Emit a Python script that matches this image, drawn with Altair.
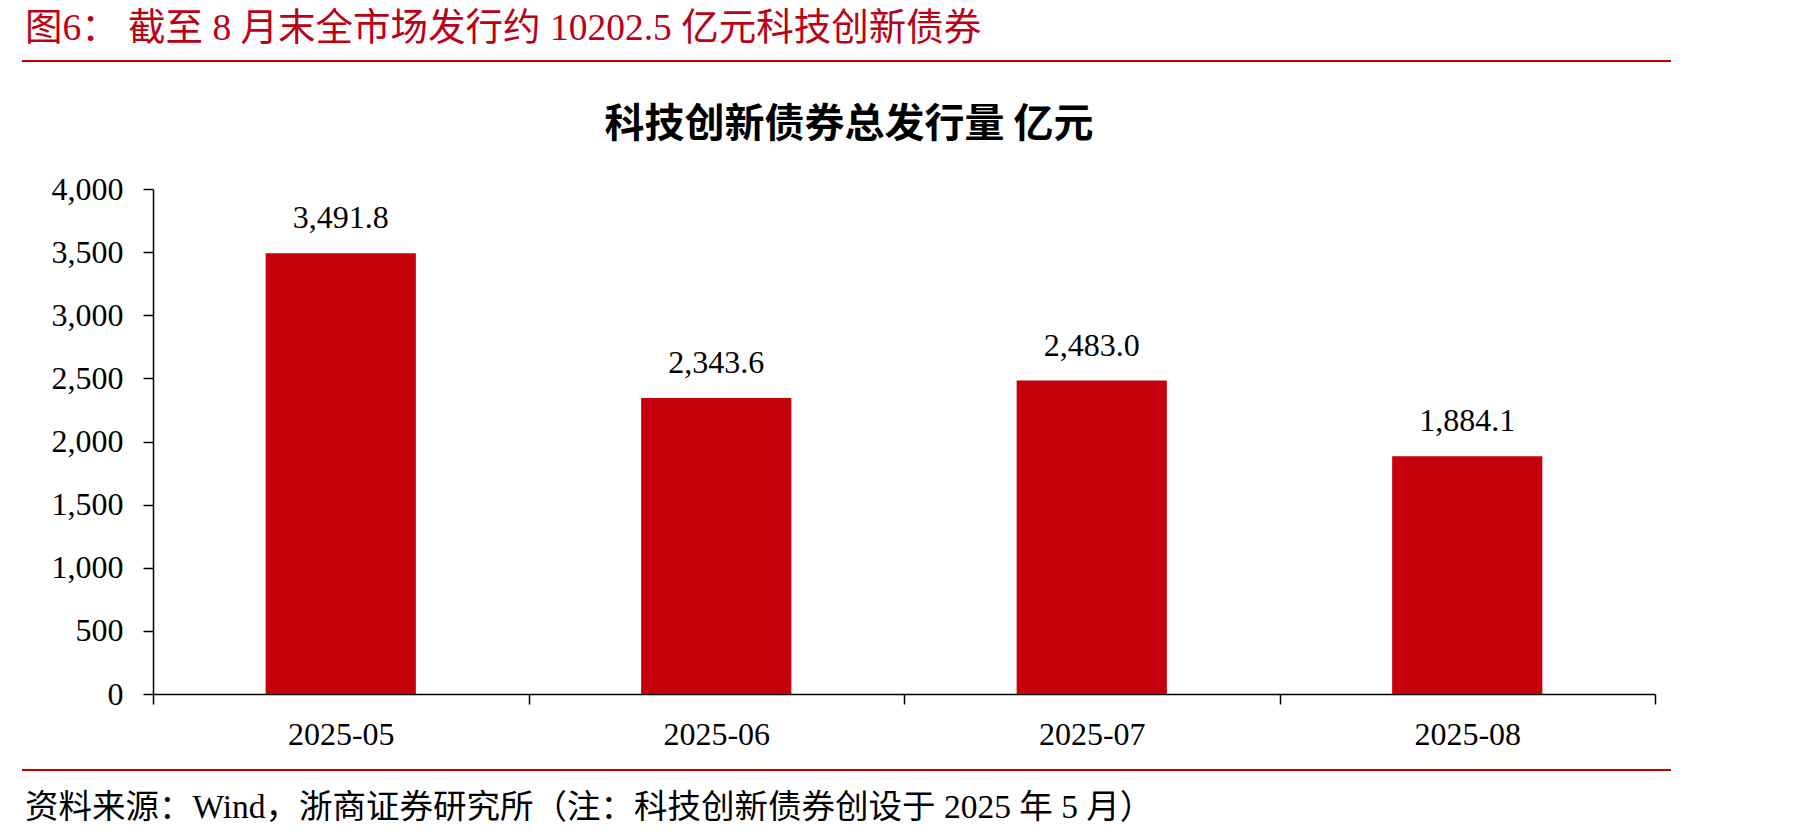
import altair as alt
import pandas as pd

months = ["2025-05", "2025-06", "2025-07", "2025-08"]
issuance = [3491.8, 2343.6, 2483.0, 1884.1]
y_ticks = [0, 500, 1000, 1500, 2000, 2500, 3000, 3500, 4000]

header_text = ["图6：  截至 8 月末全市场发行约 10202.5 亿元科技创新债券"]
chart_title = ["科技创新债券总发行量 亿元"]
footer_text = ["资料来源：Wind，浙商证券研究所（注：科技创新债券创设于 2025 年 5 月）"]

df = pd.DataFrame({"month": months, "value": issuance})

W, H = 1502, 505
L, T = 153, 189
RED = "#C00000"
BAR = "#C6000B"
SERIF = "Liberation Serif, Noto Sans CJK SC"

x = alt.X(
    "month:N",
    sort=months,
    title=None,
    scale=alt.Scale(paddingInner=0, paddingOuter=0),
    axis=alt.Axis(
        labelAngle=0,
        tickBand="extent",
        tickSize=10,
        tickColor="#000",
        tickWidth=1.5,
        domainColor="#000",
        domainWidth=1.5,
        labelFont=SERIF,
        labelFontSize=32,
        labelColor="#000",
        labelPadding=40,
        labelBaseline="alphabetic",
        grid=False,
    ),
)
y = alt.Y(
    "value:Q",
    title=None,
    scale=alt.Scale(domain=[0, 4000], nice=False),
    axis=alt.Axis(
        values=y_ticks,
        format=",.0f",
        tickSize=10,
        tickColor="#000",
        tickWidth=1.5,
        domainColor="#000",
        domainWidth=1.5,
        labelFont=SERIF,
        labelFontSize=32,
        labelColor="#000",
        labelPadding=20,
        grid=False,
    ),
)

base = alt.Chart(df)
bars = base.mark_bar(color=BAR, width=alt.RelativeBandSize(0.4)).encode(x=x, y=y)
labels = base.mark_text(
    font=SERIF, fontSize=32, color="#000", baseline="alphabetic", dy=-25
).encode(x=x, y=y, text=alt.Text("value:Q", format=",.1f"))

header = alt.Chart(pd.DataFrame({"t": header_text})).mark_text(
    font=SERIF, fontSize=37.5, color="#BC0016", align="left", baseline="alphabetic"
).encode(x=alt.value(25 - L), y=alt.value(40 - T), text="t:N")

ctitle = alt.Chart(pd.DataFrame({"t": chart_title})).mark_text(
    font="Noto Sans CJK SC", fontSize=40, fontWeight="bold", color="#000",
    align="center", baseline="alphabetic"
).encode(x=alt.value(849 - L), y=alt.value(137 - T), text="t:N")

footer = alt.Chart(pd.DataFrame({"t": footer_text})).mark_text(
    font=SERIF, fontSize=33.5, color="#000", align="left", baseline="alphabetic"
).encode(x=alt.value(25 - L), y=alt.value(818 - T), text="t:N")

line_top = alt.Chart(pd.DataFrame({"k": [0]})).mark_rule(color=RED, strokeWidth=2).encode(
    x=alt.value(22 - L), x2=alt.value(1671 - L), y=alt.value(61 - T)
)
line_bot = alt.Chart(pd.DataFrame({"k": [0]})).mark_rule(color=RED, strokeWidth=2).encode(
    x=alt.value(22 - L), x2=alt.value(1671 - L), y=alt.value(770 - T)
)

chart = (
    alt.layer(bars, labels, header, ctitle, footer, line_top, line_bot)
    .properties(
        width=W,
        height=H,
        autosize=alt.AutoSizeParams(type="none"),
        padding={"left": L, "top": T, "right": 1798 - L - W, "bottom": 838 - T - H},
        background="white",
    )
    .configure_view(strokeWidth=0)
)

chart.save("out.html", embed_options={"renderer": "svg", "actions": False})
